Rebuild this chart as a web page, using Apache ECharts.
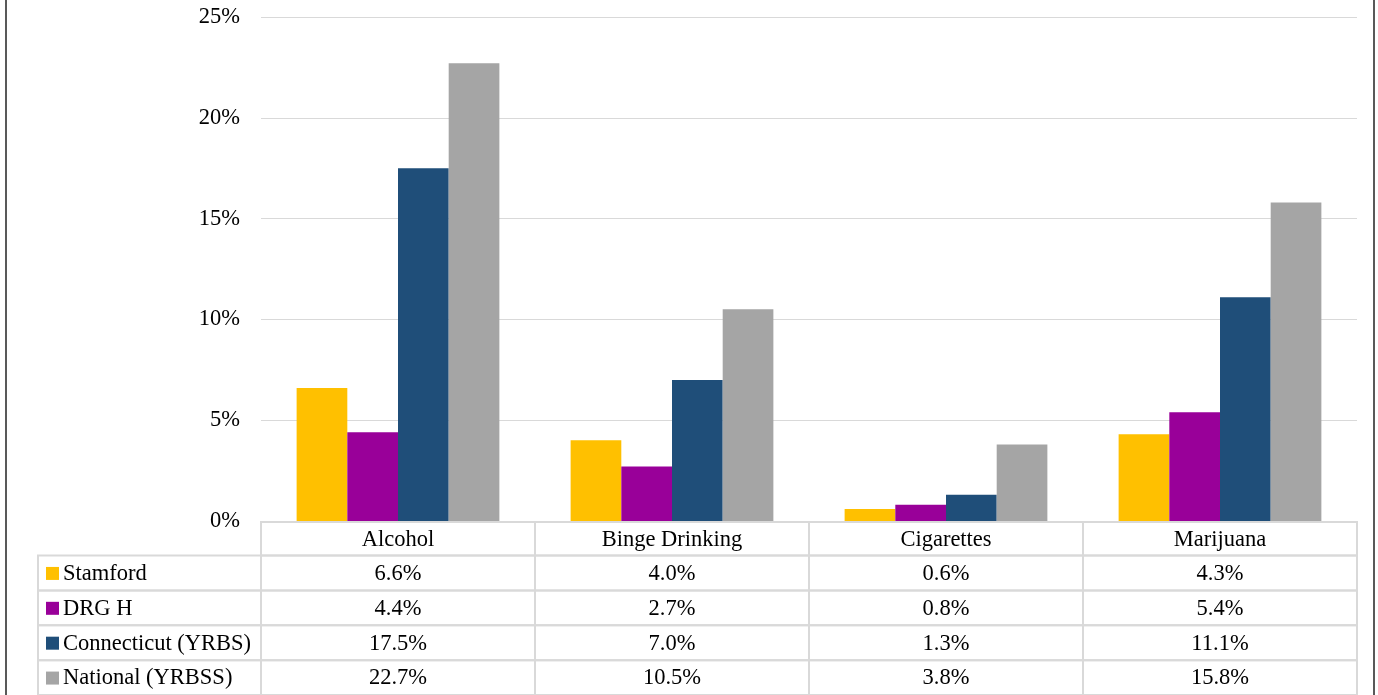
<!DOCTYPE html>
<html>
<head>
<meta charset="utf-8">
<style>
  html, body { margin: 0; padding: 0; background: #fff; }
  #chart { width: 1378px; height: 695px; }
</style>
<script src="https://cdn.jsdelivr.net/npm/echarts@6/dist/echarts.min.js"></script>
</head>
<body>
<div id="chart"></div>
<script>
// Substance use categories and the four comparison groups
const categories = ['Alcohol', 'Binge Drinking', 'Cigarettes', 'Marijuana'];
const seriesNames = ['Stamford', 'DRG H', 'Connecticut (YRBS)', 'National (YRBSS)'];
const stamford = [6.6, 4.0, 0.6, 4.3];
const drgH = [4.4, 2.7, 0.8, 5.4];
const connecticut = [17.5, 7.0, 1.3, 11.1];
const national = [22.7, 10.5, 3.8, 15.8];
const yTickStep = 5;
const yMax = 25;

const seriesValues = [stamford, drgH, connecticut, national];
const colors = ['#FFC000', '#990099', '#1F4E79', '#A5A5A5'];

const FONT = '"Liberation Serif", "Times New Roman", serif';
const FONT_SIZE = 22.5;
const TEXT = '#000000';
const CELL_BORDER = '#d9d9d9';
const PLOT_LEFT = 261;
const PLOT_RIGHT = 21;
const LABEL_COL_LEFT = 38;

// Data-table cells: header row, then one row per group
const headerCells = categories.map((c, i) => [i, 0]);
const bodyCells = [];
seriesValues.forEach((vals, r) => {
  vals.forEach((v, c) => bodyCells.push([c, r, v]));
});

function cellBox(api, c, r) {
  const center = api.coord([c, r]);
  const size = api.size([1, 1]);
  return { x: center[0] - size[0] / 2, y: center[1] - size[1] / 2, w: size[0], h: size[1], cx: center[0], cy: center[1] };
}

function cellFont() {
  return FONT_SIZE + 'px ' + FONT;
}

function renderHeader(params, api) {
  const c = headerCells[params.dataIndex][0];
  const b = cellBox(api, c, 0);
  return {
    type: 'group',
    children: [
      { type: 'rect', shape: { x: b.x, y: b.y, width: b.w, height: b.h },
        style: { fill: 'none', stroke: CELL_BORDER, lineWidth: 2 } },
      { type: 'text', x: b.cx, y: b.cy + 1,
        style: { text: categories[c], fill: TEXT, font: cellFont(), align: 'center', verticalAlign: 'middle' } }
    ]
  };
}

function renderBody(params, api) {
  const cell = bodyCells[params.dataIndex];
  const c = cell[0], r = cell[1], v = cell[2];
  const b = cellBox(api, c, r);
  const children = [
    { type: 'rect', shape: { x: b.x, y: b.y, width: b.w, height: b.h },
      style: { fill: 'none', stroke: CELL_BORDER, lineWidth: 2 } },
    { type: 'text', x: b.cx, y: b.cy + 1,
      style: { text: v.toFixed(1) + '%', fill: TEXT, font: cellFont(), align: 'center', verticalAlign: 'middle' } }
  ];
  if (c === 0) {
    // legend key column to the left of the first category
    children.push(
      { type: 'rect', shape: { x: LABEL_COL_LEFT, y: b.y, width: b.x - LABEL_COL_LEFT, height: b.h },
        style: { fill: 'none', stroke: CELL_BORDER, lineWidth: 2 } },
      { type: 'rect', shape: { x: LABEL_COL_LEFT + 8, y: b.cy - 6, width: 13, height: 13 },
        style: { fill: colors[r] } },
      { type: 'text', x: LABEL_COL_LEFT + 25, y: b.cy + 1,
        style: { text: seriesNames[r], fill: TEXT, font: cellFont(), align: 'left', verticalAlign: 'middle' } }
    );
  }
  return { type: 'group', children };
}

const chart = echarts.init(document.getElementById('chart'), null, { renderer: 'canvas' });

chart.setOption({
  animation: false,
  backgroundColor: '#ffffff',
  textStyle: { fontFamily: FONT, color: TEXT },
  grid: [
    { left: PLOT_LEFT, right: PLOT_RIGHT, top: 17, bottom: 174 },
    { left: PLOT_LEFT, right: PLOT_RIGHT, top: 522, height: 33.5 },
    { left: PLOT_LEFT, right: PLOT_RIGHT, top: 555.5, height: 144 }
  ],
  xAxis: [
    { type: 'category', gridIndex: 0, data: categories,
      axisLine: { show: false }, axisTick: { show: false }, axisLabel: { show: false } },
    { type: 'category', gridIndex: 1, data: categories, show: false },
    { type: 'category', gridIndex: 2, data: categories, show: false }
  ],
  yAxis: [
    { type: 'value', gridIndex: 0, min: 0, max: yMax, interval: yTickStep,
      axisLine: { show: false }, axisTick: { show: false },
      axisLabel: { formatter: '{value}%', fontFamily: FONT, fontSize: FONT_SIZE, color: TEXT, margin: 21 },
      splitLine: { lineStyle: { color: '#d9d9d9', width: 1 } } },
    { type: 'category', gridIndex: 1, data: ['header'], show: false },
    { type: 'category', gridIndex: 2, data: seriesNames, inverse: true, show: false }
  ],
  series: [
    ...seriesNames.map((name, i) => ({
      name, type: 'bar', xAxisIndex: 0, yAxisIndex: 0,
      data: seriesValues[i],
      itemStyle: { color: colors[i] },
      barGap: '0%', barCategoryGap: '26%'
    })),
    { type: 'custom', xAxisIndex: 1, yAxisIndex: 1, renderItem: renderHeader, data: headerCells, silent: true },
    { type: 'custom', xAxisIndex: 2, yAxisIndex: 2, renderItem: renderBody, data: bodyCells, silent: true }
  ],
  graphic: [
    { type: 'rect', shape: { x: 6, y: -10, width: 1368, height: 720 },
      style: { fill: 'none', stroke: '#595959', lineWidth: 2 }, silent: true }
  ]
});
</script>
</body>
</html>
